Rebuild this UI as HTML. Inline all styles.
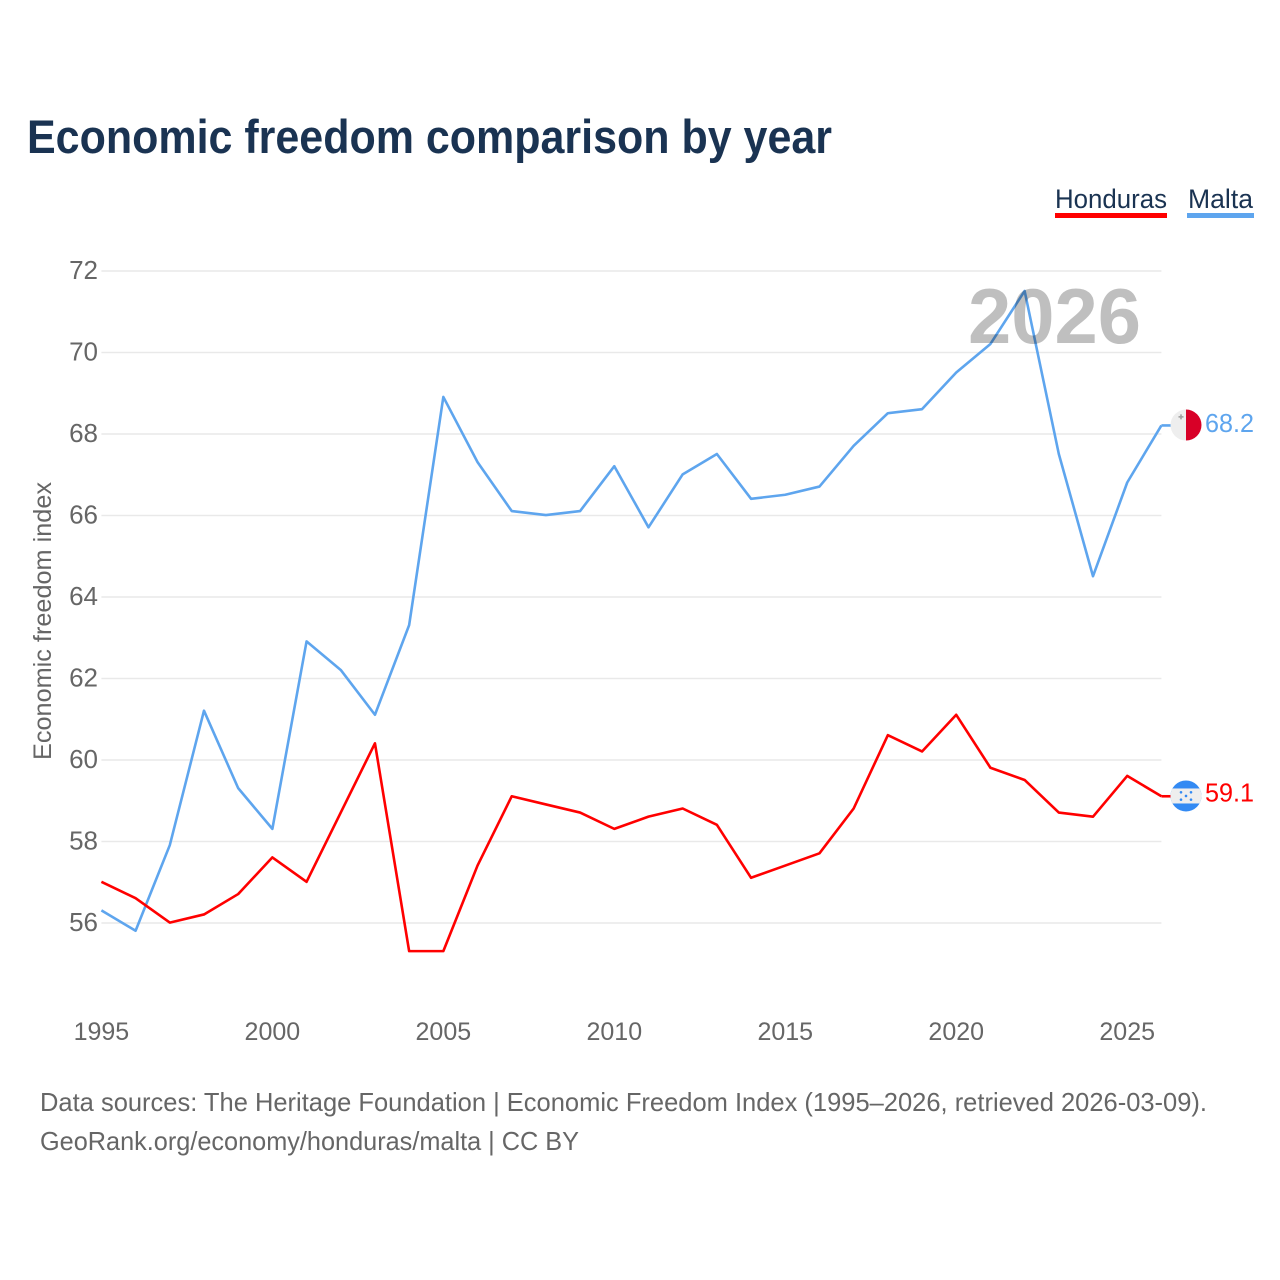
<!DOCTYPE html>
<html lang="en">
<head>
<meta charset="utf-8">
<title>Economic freedom comparison by year</title>
<style>
html,body{margin:0;padding:0;background:#fff;width:1280px;height:1280px;overflow:hidden}
svg{display:block}
text{font-family:"Liberation Sans",sans-serif}
</style>
</head>
<body>
<svg id="chart" width="1280" height="1280" viewBox="0 0 1280 1280" xmlns="http://www.w3.org/2000/svg">
  <text x="27" y="153" font-size="47" font-weight="700" fill="#1a3352" textLength="805" lengthAdjust="spacingAndGlyphs">Economic freedom comparison by year</text>

  <g>
    <g>
      <text x="1055" y="208" font-size="27" fill="#1a3352" textLength="112" lengthAdjust="spacingAndGlyphs">Honduras</text>
      <rect x="1055" y="213" width="112" height="5" fill="#ff0000"/>
    </g>
    <g>
      <text x="1188" y="208" font-size="27" fill="#1a3352" textLength="65" lengthAdjust="spacingAndGlyphs">Malta</text>
      <rect x="1187" y="213" width="67" height="5" fill="#5ea5ee"/>
    </g>
  </g>

  <g id="grid"></g>
  <g id="yticks"></g>
  <g id="xticks"></g>
  <text transform="translate(51,621) rotate(-90)" text-anchor="middle" font-size="25" fill="#666666" textLength="278" lengthAdjust="spacingAndGlyphs">Economic freedom index</text>

  <g id="series"></g>

  <text id="year-watermark" x="968" y="343" font-size="78" font-weight="700" fill="#000000" fill-opacity="0.25" textLength="173" lengthAdjust="spacingAndGlyphs">2026</text>

  <defs>
    <clipPath id="flag-clip-mt"><circle id="clip-mt" cx="1186" cy="425" r="15.5"/></clipPath>
    <clipPath id="flag-clip-hn"><circle id="clip-hn" cx="1186" cy="796" r="15.5"/></clipPath>
  </defs>

  <g id="flag-malta"></g>
  <g id="flag-honduras"></g>
  <g id="end-labels"></g>

  <g>
    <text x="40" y="1111" font-size="26" fill="#666666" textLength="1167" lengthAdjust="spacingAndGlyphs">Data sources: The Heritage Foundation | Economic Freedom Index (1995–2026, retrieved 2026-03-09).</text>
    <text x="40" y="1150" font-size="26" fill="#666666" textLength="539" lengthAdjust="spacingAndGlyphs">GeoRank.org/economy/honduras/malta | CC BY</text>
  </g>
</svg>

<script>
const years = [1995,1996,1997,1998,1999,2000,2001,2002,2003,2004,2005,2006,2007,2008,2009,2010,2011,2012,2013,2014,2015,2016,2017,2018,2019,2020,2021,2022,2023,2024,2025,2026];
const hondurasValues = [57.0,56.6,56.0,56.2,56.7,57.6,57.0,58.7,60.4,55.3,55.3,57.4,59.1,58.9,58.7,58.3,58.6,58.8,58.4,57.1,57.4,57.7,58.8,60.6,60.2,61.1,59.8,59.5,58.7,58.6,59.6,59.1];
const maltaValues = [56.3,55.8,57.9,61.2,59.3,58.3,62.9,62.2,61.1,63.3,68.9,67.3,66.1,66.0,66.1,67.2,65.7,67.0,67.5,66.4,66.5,66.7,67.7,68.5,68.6,69.5,70.2,71.5,67.5,64.5,66.8,68.2];
const yTickValues = [56,58,60,62,64,66,68,70,72];
const xTickValues = [1995,2000,2005,2010,2015,2020,2025];

const NS = 'http://www.w3.org/2000/svg';
function xScale(year){ return 101.4 + (year - 1995) * (1161.4 - 101.4) / (2026 - 1995); }
function yScale(value){ return 923 - (value - 56) * (923 - 271) / (72 - 56); }
function make(tag, attrs, parent){
  const el = document.createElementNS(NS, tag);
  for (const k in attrs) el.setAttribute(k, attrs[k]);
  parent.appendChild(el);
  return el;
}

const grid = document.getElementById('grid');
const yticks = document.getElementById('yticks');
yTickValues.forEach(function(v){
  const line = make('line', {x1:101.4, x2:1161.4, y1:yScale(v), y2:yScale(v), stroke:'#e9e9e9', 'stroke-width':1.5}, grid);
  
  
  const t = make('text', {x:98, y:yScale(v) + 8, 'text-anchor':'end', 'font-size':26, fill:'#666666'}, yticks);
  
  
  t.textContent = v;
});

const xticks = document.getElementById('xticks');
xTickValues.forEach(function(v){
  const t = make('text', {x:xScale(v), y:1040, 'text-anchor':'middle', 'font-size':25, fill:'#666666'}, xticks);
  
  
  t.textContent = v;
});

function linePoints(values){
  return values.map(function(v, i){ return xScale(years[i]).toFixed(2) + ',' + (yScale(v) - 0.4).toFixed(2); }).join(' ');
}
const series = document.getElementById('series');

const maltaLine = make('polyline', {points:linePoints(maltaValues), fill:'none', stroke:'#5ea5ee', 'stroke-width':2.6, 'stroke-linejoin':'round'}, series);


const hondurasLine = make('polyline', {points:linePoints(hondurasValues), fill:'none', stroke:'#ff0000', 'stroke-width':2.6, 'stroke-linejoin':'round'}, series);



const maltaLast = maltaValues[maltaValues.length - 1];
const hondurasLast = hondurasValues[hondurasValues.length - 1];
const xEnd = xScale(years[years.length - 1]);
const yM = yScale(maltaLast) - 0.4;
const yH = yScale(hondurasLast) - 0.4;

const c1 = make('line', {x1:xEnd, x2:1172, y1:yM, y2:yM, stroke:'#5ea5ee', 'stroke-width':2.6}, series);


const c2 = make('line', {x1:xEnd, x2:1172, y1:yH, y2:yH, stroke:'#ff0000', 'stroke-width':2.6}, series);



/* flags */
const cxFlag = 1186;
const cyM = yM - 0.4;
const cyH = yH - 0.3;
document.getElementById('clip-mt').setAttribute('cy', cyM);
document.getElementById('clip-hn').setAttribute('cy', cyH);

const fm = document.getElementById('flag-malta');
fm.setAttribute('clip-path', 'url(#flag-clip-mt)');
const mtWhite = make('rect', {x:cxFlag - 16, y:cyM - 16, width:16, height:32, fill:'#eeeeee'}, fm);


const mtRed = make('rect', {x:cxFlag, y:cyM - 16, width:16, height:32, fill:'#d80027'}, fm);


const mtCrossA = make('rect', {x:cxFlag - 7.5, y:cyM - 9, width:5, height:1.6, fill:'#a0a0a0'}, fm);


const mtCrossB = make('rect', {x:cxFlag - 5.8, y:cyM - 10.7, width:1.6, height:5, fill:'#a0a0a0'}, fm);



const fh = document.getElementById('flag-honduras');
fh.setAttribute('clip-path', 'url(#flag-clip-hn)');
const hnBlue = make('rect', {x:cxFlag - 16, y:cyH - 16, width:32, height:32, fill:'#338af3'}, fh);


const hnWhite = make('rect', {x:cxFlag - 16, y:cyH - 7.5, width:32, height:15, fill:'#eeeeee'}, fh);


[[-5,-3.7],[5,-3.7],[0,0],[-5,3.7],[5,3.7]].forEach(function(o){
  const s = make('circle', {cx:cxFlag + o[0], cy:cyH + o[1], r:1.3, fill:'#338af3'}, fh);
  
  
});

/* end value labels */
const endLabels = document.getElementById('end-labels');
const lm = make('text', {x:1205, y:yM + 6.4, 'font-size':26, fill:'#5ea5ee', textLength:49, lengthAdjust:'spacingAndGlyphs'}, endLabels);


lm.textContent = maltaLast.toFixed(1);
const lh = make('text', {x:1205, y:yH + 5.4, 'font-size':26, fill:'#ff0000', textLength:49, lengthAdjust:'spacingAndGlyphs'}, endLabels);


lh.textContent = hondurasLast.toFixed(1);
</script>
</body>
</html>
